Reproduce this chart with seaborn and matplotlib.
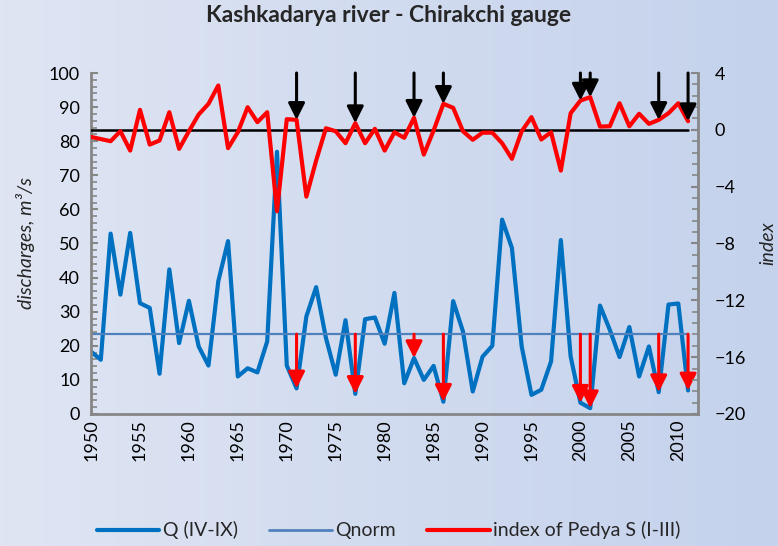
import numpy as np
import pandas as pd
import seaborn as sns
import matplotlib.pyplot as plt
from matplotlib.ticker import MultipleLocator

# data
years = list(range(1950, 2012))
q_iv_ix = [18.3, 15.9, 52.9, 35.0, 53.1, 32.5, 31.1, 11.8, 42.4, 20.8,
           33.2, 19.8, 14.2, 38.9, 50.7, 11.0, 13.4, 12.2, 21.3, 76.9,
           14.2, 7.5, 28.6, 37.2, 22.3, 11.5, 27.5, 5.9, 27.8, 28.3,
           20.6, 35.5, 9.0, 16.4, 10.0, 14.1, 3.6, 33.1, 24.2, 6.6,
           16.8, 20.0, 57.0, 48.7, 19.8, 5.6, 7.1, 15.4, 51.0, 16.9,
           3.3, 1.7, 31.8, 24.7, 16.7, 25.5, 11.0, 19.8, 6.4, 32.1, 32.4, 6.9]
q_norm = 23.4
pedya = [-0.5, -0.65, -0.8, -0.1, -1.46, 1.41, -1.04, -0.75, 1.24, -1.34,
         -0.1, 1.08, 1.83, 3.12, -1.29, -0.17, 1.59, 0.54, 1.24, -5.73,
         0.75, 0.7, -4.7, -2.16, 0.11, -0.1, -0.94, 0.47, -0.94, 0.07,
         -1.46, -0.17, -0.56, 0.85, -1.74, -0.05, 1.83, 1.55, -0.1, -0.7,
         -0.2, -0.2, -0.94, -2.04, -0.1, 0.89, -0.68, -0.17, -2.87, 1.17,
         2.06, 2.3, 0.23, 0.25, 1.87, 0.25, 1.13, 0.42, 0.7, 1.17, 1.87, 0.61]
drought_years = [1971, 1977, 1983, 1986, 2000, 2001, 2008, 2011]

df = pd.DataFrame({'year': years, 'Q': q_iv_ix, 'index': pedya})
df['Qnorm'] = q_norm
df['zero'] = 0.0

sns.set_style("white")
plt.rcParams['font.family'] = ['Lato', 'DejaVu Sans']

fig = plt.figure(figsize=(7.78, 5.46), dpi=100)

# gradient background like the excel chart area
bg = fig.add_axes([0, 0, 1, 1], zorder=-10)
grad = np.linspace(0, 1, 256).reshape(1, -1)
c0 = np.array([223, 229, 243]) / 255
c1 = np.array([196, 210, 236]) / 255
img = c0[None, None, :] * (1 - grad[..., None]) + c1[None, None, :] * grad[..., None]
bg.imshow(img, aspect='auto', extent=[0, 1, 0, 1])
bg.axis('off')

ax = fig.add_axes([0.117, 0.2418, 0.78, 0.6245])
ax.patch.set_alpha(0)
ax2 = ax.twinx()
ax2.patch.set_alpha(0)

blue = '#0070C0'
red = '#FF0000'
grey = '#868686'

sns.lineplot(data=df, x='year', y='Q', ax=ax, color=blue, linewidth=3, legend=False)
sns.lineplot(data=df, x='year', y='Qnorm', ax=ax, color='#4F81BD', linewidth=1.6, legend=False)
sns.lineplot(data=df, x='year', y='zero', ax=ax2, color='black', linewidth=1.8, legend=False)
sns.lineplot(data=df, x='year', y='index', ax=ax2, color=red, linewidth=3, legend=False)

# arrows marking the dry years
for yr in drought_years:
    row = df[df['year'] == yr].iloc[0]
    ax2.annotate('', xy=(yr, row['index']), xytext=(yr, 4),
                 arrowprops=dict(arrowstyle='-|>,head_width=0.5,head_length=1.0',
                                 mutation_scale=10, color='black', lw=2.2,
                                 shrinkA=0, shrinkB=0))
    ax.annotate('', xy=(yr, row['Q']), xytext=(yr, q_norm),
                arrowprops=dict(arrowstyle='-|>,head_width=0.5,head_length=1.0',
                                mutation_scale=10, color=red, lw=2.2,
                                shrinkA=0, shrinkB=0))

ax.set_xlim(1950, 2012)
ax.set_ylim(0, 100)
ax2.set_ylim(-20, 4)

ax.xaxis.set_major_locator(MultipleLocator(5))
ax.xaxis.set_minor_locator(MultipleLocator(1))
ax.yaxis.set_major_locator(MultipleLocator(10))
ax.yaxis.set_minor_locator(MultipleLocator(2))
ax2.yaxis.set_major_locator(MultipleLocator(4))
ax2.yaxis.set_minor_locator(MultipleLocator(0.8))

for a in (ax, ax2):
    for s in a.spines.values():
        s.set_visible(False)
ax.spines['left'].set_visible(True)
ax.spines['bottom'].set_visible(True)
ax2.spines['right'].set_visible(True)
for s in (ax.spines['left'], ax.spines['bottom'], ax2.spines['right']):
    s.set_color(grey)
    s.set_linewidth(2)

ax.tick_params(axis='both', which='major', direction='in', length=5, width=1.5,
               color=grey, labelsize=13, labelcolor='black')
ax.tick_params(axis='both', which='minor', direction='in', length=4, width=1.2, color=grey)
ax.tick_params(axis='x', which='both', top=False, labelrotation=90, pad=4)
ax.tick_params(axis='y', which='both', right=False, left=True, pad=8)
ax2.tick_params(axis='y', which='major', direction='in', length=5, width=1.5,
                color=grey, labelsize=13, labelcolor='black', pad=12)
ax2.tick_params(axis='y', which='minor', direction='in', length=4, width=1.2, color=grey)
ax.set_xticks(range(1950, 2011, 5))
ax.set_xticklabels([str(y) for y in range(1950, 2011, 5)])

ax.set_xlabel('')
ax.set_ylabel('discharges, m³/s', fontsize=14, fontstyle='italic', labelpad=10)
ax2.set_ylabel('index', fontsize=14, fontstyle='italic', rotation=90, labelpad=10)

fig.suptitle('Kashkadarya river - Chirakchi gauge', fontsize=16.5, fontweight='bold',
             x=0.5, y=0.99)

handles = [plt.Line2D([], [], color=blue, lw=3),
           plt.Line2D([], [], color='#4F81BD', lw=2),
           plt.Line2D([], [], color=red, lw=3)]
labels = ['Q (IV-IX)', 'Qnorm', 'index of Pedya S (I-III)']
fig.legend(handles, labels, loc='lower center', bbox_to_anchor=(0.5, -0.02), ncol=3,
           frameon=False, fontsize=14, handlelength=3.2, handletextpad=0.2,
           columnspacing=1.6)

fig.savefig('out.png', dpi=100)
